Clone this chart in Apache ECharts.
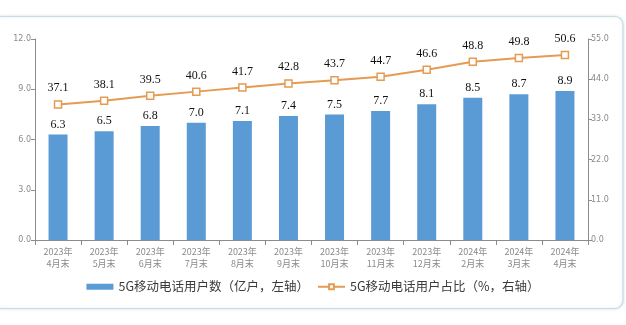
<!DOCTYPE html>
<html>
<head>
<meta charset="utf-8">
<script src="https://cdn.jsdelivr.net/npm/echarts@6/dist/echarts.min.js"></script>
<style>
  html, body { margin: 0; padding: 0; background: #ffffff; }
  #main { width: 626px; height: 325px; }
</style>
</head>
<body>
<div id="main"></div>
<script>
// Month-end categories (year / month)
const categories = [
  '2023年\n4月末', '2023年\n5月末', '2023年\n6月末', '2023年\n7月末',
  '2023年\n8月末', '2023年\n9月末', '2023年\n10月末', '2023年\n11月末',
  '2023年\n12月末', '2024年\n2月末', '2024年\n3月末', '2024年\n4月末'
];
// 5G mobile subscribers, 100 million (left axis)
const users5G = [6.3, 6.5, 6.8, 7.0, 7.1, 7.4, 7.5, 7.7, 8.1, 8.5, 8.7, 8.9];
// Share of 5G among mobile subscribers, % (right axis)
const share5G = [37.1, 38.1, 39.5, 40.6, 41.7, 42.8, 43.7, 44.7, 46.6, 48.8, 49.8, 50.6];

const barName = '5G移动电话用户数（亿户，左轴）';
const lineName = '5G移动电话用户占比（%，右轴）';

const axisGray = '#8c8c8c';
const labelGray = '#8a8a8a';
const barColor = '#5b9bd5';
const lineColor = '#e59b52';

const chart = echarts.init(document.getElementById('main'), null, { renderer: 'canvas' });

chart.setOption({
  animation: false,
  backgroundColor: '#ffffff',
  graphic: [{
    type: 'rect',
    z: -10,
    shape: { x: -6, y: 16.5, width: 629, height: 292, r: 8 },
    style: {
      fill: '#ffffff',
      stroke: '#c9dde3',
      lineWidth: 1.2,
      shadowColor: 'rgba(150,190,200,0.35)',
      shadowBlur: 3
    }
  }],
  grid: { left: 35, right: 38, top: 39, bottom: 85 },
  legend: {
    bottom: 27,
    left: 'center',
    itemGap: 8,
    itemWidth: 27,
    itemHeight: 6,
    textStyle: { fontFamily: 'Noto Sans CJK SC', fontSize: 12.5, color: '#3a3a3a' },
    data: [
      { name: barName, icon: 'rect' },
      { name: lineName }
    ]
  },
  xAxis: {
    type: 'category',
    data: categories,
    axisLine: { lineStyle: { color: axisGray, width: 1 } },
    axisTick: { show: true, alignWithLabel: false, length: 5, lineStyle: { color: axisGray } },
    axisLabel: {
      color: labelGray,
      fontFamily: 'Noto Sans CJK SC',
      fontSize: 9,
      lineHeight: 12,
      margin: 6,
      interval: 0
    }
  },
  yAxis: [{
    type: 'value',
    min: 0, max: 12, interval: 3,
    position: 'left',
    splitLine: { show: false },
    axisLine: { show: true, lineStyle: { color: axisGray } },
    axisTick: { show: true, length: 4, lineStyle: { color: axisGray } },
    axisLabel: {
      color: labelGray, fontFamily: 'DejaVu Sans', fontSize: 8, margin: 4,
      formatter: v => v.toFixed(1)
    }
  }, {
    type: 'value',
    min: 0, max: 55, interval: 11,
    position: 'right',
    splitLine: { show: false },
    axisLine: { show: true, lineStyle: { color: axisGray } },
    axisTick: { show: true, length: 4, lineStyle: { color: axisGray } },
    axisLabel: {
      color: labelGray, fontFamily: 'DejaVu Sans', fontSize: 8, margin: 3,
      formatter: v => v.toFixed(1)
    }
  }],
  series: [{
    name: barName,
    type: 'bar',
    yAxisIndex: 0,
    data: users5G,
    barWidth: 19,
    itemStyle: { color: barColor },
    label: {
      show: true,
      position: 'top',
      distance: 4,
      color: '#111111',
      fontFamily: 'Liberation Serif',
      fontSize: 12,
      formatter: p => p.value.toFixed(1)
    }
  }, {
    name: lineName,
    type: 'line',
    yAxisIndex: 1,
    data: share5G,
    symbol: 'rect',
    symbolSize: 7,
    lineStyle: { color: lineColor, width: 2 },
    itemStyle: { color: '#ffffff', borderColor: lineColor, borderWidth: 1.5 },
    label: {
      show: true,
      position: 'top',
      distance: 6,
      color: '#111111',
      fontFamily: 'Liberation Serif',
      fontSize: 12,
      formatter: p => p.value.toFixed(1)
    }
  }]
});
</script>
</body>
</html>
